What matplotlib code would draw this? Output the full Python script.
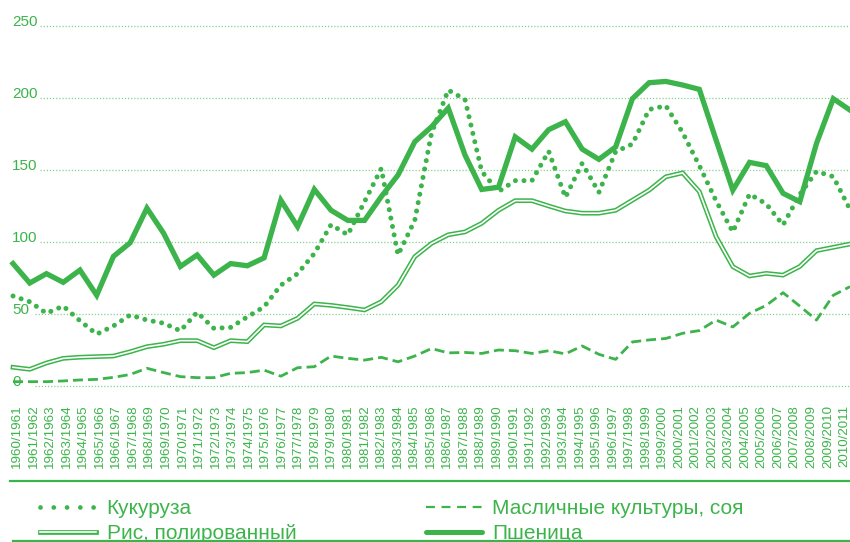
import matplotlib
matplotlib.use("Agg")
import matplotlib.pyplot as plt
import matplotlib.lines as lines
import matplotlib.patheffects as pe
import matplotlib.transforms as mtransforms

# data
seasons = [f"{y}/{y + 1}" for y in range(1960, 2011)]

wheat = [85, 71.5, 78, 72, 80.5, 63, 90, 99.5, 123.5, 106,
         83, 91, 77, 85, 83.5, 89, 129, 110.7, 136.5, 122,
         115, 115, 131.5, 146.5, 169.6, 180, 193, 160.4, 136.5, 138,
         173, 164.5, 178, 183.5, 164.5, 157.4, 166, 199.5, 210.6, 211.5,
         209, 206, 170.8, 136, 155.3, 153, 133.8, 128, 168.5, 199.5,
         191.6]

maize = [62.5, 58.5, 50.5, 55.5, 45.3, 36, 41.7, 49.3, 45.8, 43.6,
         38.3, 51.2, 40, 40.7, 48, 55, 70, 78, 92, 112,
         105, 128, 151, 91, 115, 175.5, 205.5, 199, 149, 135,
         142.6, 142.6, 163, 131, 154.6, 134.5, 162.7, 168, 192, 194.6,
         176, 153, 128.6, 107, 133.3, 126.4, 111.8, 133, 149, 145.4,
         122.6]

rice = [13, 11.6, 16, 19.2, 20, 20.4, 20.8, 23.8, 27.3, 29,
        31.5, 31.5, 26.6, 31.5, 30.8, 42.4, 41.7, 47, 57, 56,
        54.5, 52.8, 58.5, 70, 89.8, 99, 105, 107, 113, 122,
        128.7, 128.7, 125, 121.5, 120, 120, 122, 129, 136, 145.3,
        148, 135, 103.7, 82.9, 76.4, 78.2, 77, 83, 94, 96.3,
        98.6]

oilseeds = [3, 3, 3, 3.5, 4.2, 4.6, 6, 8, 12.3, 9.3,
            6.5, 5.8, 5.8, 8.8, 9.3, 11, 6.8, 12.7, 13.4, 20.8,
            19.2, 18, 19.9, 16.8, 20.8, 26, 23, 23.3, 22.6, 25,
            24.5, 22.6, 24.5, 22.3, 27.8, 22, 18.5, 30.6, 32, 33,
            36.6, 38.5, 45.8, 41, 50.5, 56, 64.8, 55.5, 45.8, 63,
            69]

y_ticks = [0, 50, 100, 150, 200, 250]

names = ["Кукуруза", "Рис, полированный", "Масличные культуры, соя", "Пшеница"]

GREEN = "#3cb44b"
GRID = "#86d38f"

plt.rcParams['font.family'] = ['Liberation Sans', 'DejaVu Sans']

fig = plt.figure(figsize=(8.5, 5.42), dpi=100)
ax = fig.add_axes([0, 147 / 542, 1, 385 / 542])

x = list(range(len(seasons)))

# grid lines + y labels
lab_tr = mtransforms.blended_transform_factory(ax.transAxes, ax.transData)
lab_tr = lab_tr + mtransforms.ScaledTranslation(0, 4 / 100, fig.dpi_scale_trans)
for v in y_ticks:
    start = 0.047 if v >= 100 else 0.041
    ax.axhline(v, xmin=start, xmax=1, color=GRID, linestyle=(0, (1, 1.5)),
               linewidth=0.9, zorder=1)
    ax.text(12 / 850, v, str(v), transform=lab_tr, ha='left', va='center',
            fontsize=11, color=GREEN, zorder=2)

# series
ax.plot(x, oilseeds, color=GREEN, linewidth=2, linestyle=(0, (3.6, 1.8)),
        zorder=3, clip_on=False)
ax.plot(x, rice, color='white', linewidth=1.2, zorder=4, clip_on=False,
        solid_joinstyle='miter',
        path_effects=[pe.Stroke(linewidth=3.4, foreground=GREEN), pe.Normal()])
ax.plot(x, maize, color=GREEN, linewidth=3.6, linestyle=(0, (0.01, 1.7)),
        dash_capstyle='round', zorder=5, clip_on=False)
ax.plot(x, wheat, color=GREEN, linewidth=3.8, solid_joinstyle='miter',
        zorder=6, clip_on=False)

ax.set_xlim(-13 / 16.74, 50)
ax.set_ylim(-6.25, 261.1)

# tick labels sit slightly narrower than the data points
tick_pos = [(17 + 16.55 * i - 13) / 16.74 for i in x]
ax.set_xticks(tick_pos)
ax.set_xticklabels(seasons, rotation=90, fontsize=9.6, color=GREEN)
ax.tick_params(axis='x', length=0, pad=7)
ax.set_yticks([])
for s in ax.spines.values():
    s.set_visible(False)

# separator lines
fig.add_artist(lines.Line2D([10 / 850, 1], [1 - 481 / 542] * 2, color=GREEN,
                            linewidth=1.6, transform=fig.transFigure))
fig.add_artist(lines.Line2D([13 / 850, 1], [1 - 541 / 542] * 2, color=GREEN,
                            linewidth=1.6, transform=fig.transFigure))

# legend
h_maize = lines.Line2D([], [], color=GREEN, linewidth=3.4, linestyle=(0, (0.01, 2.8)),
                       dash_capstyle='round')
h_rice = lines.Line2D([], [], color='white', linewidth=1.2,
                      path_effects=[pe.Stroke(linewidth=3.4, foreground=GREEN), pe.Normal()])
h_oil = lines.Line2D([], [], color=GREEN, linewidth=1.6, linestyle=(0, (4, 3)))
h_wheat = lines.Line2D([], [], color=GREEN, linewidth=3.6, solid_capstyle='round')

leg = fig.legend([h_maize, h_rice, h_oil, h_wheat], names, ncol=2,
                 loc='upper left', bbox_to_anchor=(40 / 850, 1 - 499 / 542),
                 frameon=False, fontsize=15, handlelength=2.7, handletextpad=0.5,
                 columnspacing=6.2, labelspacing=0.3, borderpad=0, borderaxespad=0)
for t in leg.get_texts():
    t.set_color(GREEN)

plt.savefig("out.png", dpi=100)
